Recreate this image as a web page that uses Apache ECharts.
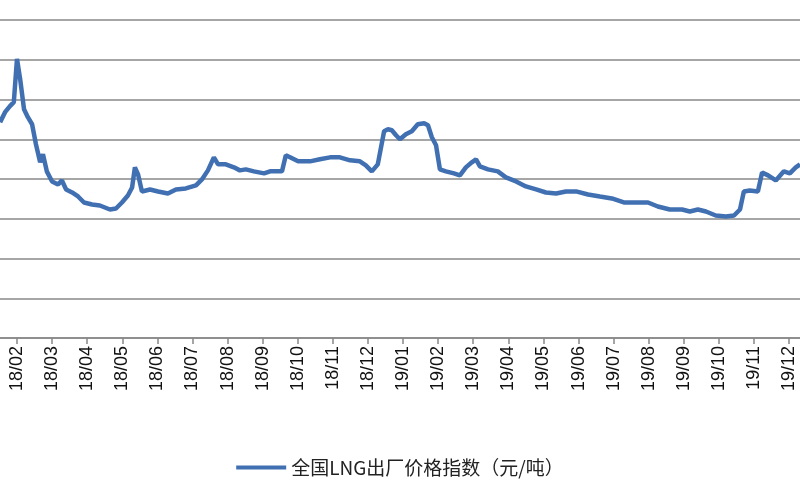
<!DOCTYPE html>
<html>
<head>
<meta charset="utf-8">
<script src="https://cdn.jsdelivr.net/npm/echarts@6/dist/echarts.min.js"></script>
<style>html,body{margin:0;padding:0;background:#fff}#chartDom{width:800px;height:500px}</style>
</head>
<body>
<div id="chartDom"></div>
<script>
// month index: 0 = 2018/01, 1 = 2018/02 ...
var months = [0.52,0.66,0.80,0.91,1.0,1.09,1.20,1.31,1.43,1.54,1.66,1.74,1.85,2.0,2.17,2.28,2.40,2.57,2.74,2.91,3.14,3.36,3.65,3.82,3.99,4.16,4.28,4.36,4.45,4.56,4.79,5.02,5.30,5.53,5.81,6.10,6.27,6.44,6.61,6.73,6.95,7.18,7.35,7.52,7.75,8.04,8.21,8.44,8.55,8.66,8.78,9.01,9.35,9.63,9.92,10.20,10.49,10.77,10.94,11.11,11.28,11.46,11.57,11.68,11.80,11.91,12.08,12.25,12.42,12.60,12.71,12.82,12.94,13.05,13.22,13.45,13.62,13.79,13.96,14.08,14.19,14.42,14.70,14.93,15.22,15.50,15.79,16.07,16.36,16.64,16.93,17.27,17.61,17.95,18.29,18.64,18.98,19.26,19.60,19.95,20.17,20.40,20.63,20.91,21.20,21.43,21.60,21.71,21.88,22.11,22.23,22.40,22.62,22.85,23.02,23.19,23.31];
var prices = [5429,5681,5833,5934,7020,6515,5757,5555,5378,4873,4419,4621,4192,3939,3863,3964,3737,3661,3560,3409,3358,3333,3232,3257,3409,3586,3788,4293,4116,3687,3737,3687,3636,3737,3762,3838,3990,4217,4545,4368,4368,4293,4217,4242,4192,4141,4192,4192,4192,4596,4545,4444,4444,4495,4545,4545,4469,4444,4343,4192,4368,5202,5252,5227,5101,5000,5126,5202,5378,5404,5353,5050,4848,4242,4192,4141,4091,4293,4419,4495,4318,4242,4192,4040,3939,3813,3737,3661,3636,3687,3687,3611,3560,3510,3409,3409,3409,3308,3232,3232,3182,3232,3182,3081,3055,3081,3232,3687,3712,3687,4166,4091,3964,4192,4141,4293,4368];
var tickMonths = [1,2,3,4,5,6,7,8,9,10,11,12,13,14,15,16,17,18,19,20,21,22,23];
var seriesName = '全国LNG出厂价格指数（元/吨）';

function monthLabel(m) {
    var y = 18 + Math.floor(m / 12);
    var mm = (m % 12) + 1;
    return y + '/' + (mm < 10 ? '0' + mm : mm);
}

var myChart = echarts.init(document.getElementById('chartDom'));
var option = {
    animation: false,
    grid: {left: 0, right: 0, top: 20, bottom: 162},
    legend: {
        bottom: 18, left: 'center',
        icon: 'rect', itemWidth: 50, itemHeight: 4,
        textStyle: {fontSize: 19, color: '#222', fontFamily: 'Noto Sans CJK SC'},
        data: [seriesName]
    },
    xAxis: {
        type: 'value', min: 0.516, max: 23.31,
        splitLine: {show: false},
        axisLine: {lineStyle: {color: '#888', width: 1.5}},
        axisTick: {show: true, customValues: tickMonths, length: 6, lineStyle: {color: '#888', width: 1.5}},
        axisLabel: {
            customValues: tickMonths, rotate: 90, fontSize: 18, color: '#111',
            fontFamily: 'Liberation Sans', margin: 8,
            formatter: function (v) { return monthLabel(Math.round(v)); }
        }
    },
    yAxis: {
        type: 'value', min: 0, max: 8000, interval: 1000,
        axisLabel: {show: false}, axisLine: {show: false}, axisTick: {show: false},
        splitLine: {lineStyle: {color: '#888', width: 1.5}}
    },
    series: [{
        name: seriesName, type: 'line', showSymbol: false,
        data: months.map(function (m, i) { return [m, prices[i]]; }),
        lineStyle: {color: '#4170B2', width: 4.5},
        itemStyle: {color: '#4170B2'}
    }]
};
myChart.setOption(option);
</script>
</body>
</html>
